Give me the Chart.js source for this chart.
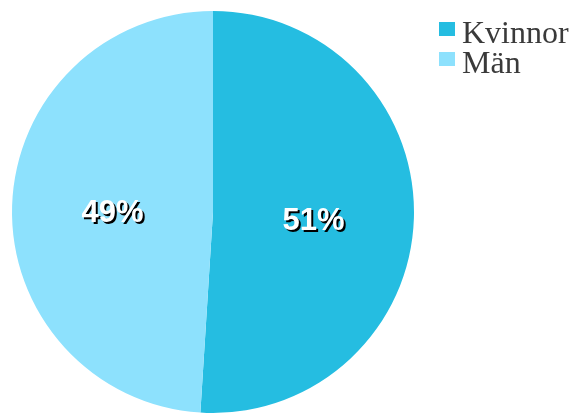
<!DOCTYPE html>
<html>
<head>
<meta charset="utf-8">
<script src="https://cdn.jsdelivr.net/npm/chart.js@4"></script>
<style>
  html, body { margin: 0; padding: 0; background: #fff; }
  #wrap { width: 571px; height: 414px; }
</style>
</head>
<body>
<div id="wrap"><canvas id="pie" width="571" height="414"></canvas></div>
<script>
const kategorier = ["Kvinnor", "Män"];
const andelar = [51, 49];
const farger = ["#25BDE1", "#8DE1FD"];

// procenttext mitt i varje tårtbit
const etiketter = {
    id: "etiketter",
    afterDatasetsDraw(chart) {
        const ctx = chart.ctx;
        const meta = chart.getDatasetMeta(0);
        ctx.save();
        ctx.font = "bold 31px 'Liberation Sans', Arial, sans-serif";
        ctx.textAlign = "center";
        ctx.textBaseline = "middle";
        meta.data.forEach((arc, i) => {
            const p = arc.tooltipPosition();
            const txt = andelar[i] + "%";
            const dy = i === 0 ? 6 : 5;
            ctx.fillStyle = "#000";
            ctx.fillText(txt, p.x + 2, p.y + dy + 2);
            ctx.fillStyle = "#fff";
            ctx.fillText(txt, p.x, p.y + dy);
        });
        ctx.restore();
    }
};

// egen förklaring uppe till höger
const forklaring = {
    id: "forklaring",
    afterDraw(chart) {
        const ctx = chart.ctx;
        ctx.save();
        ctx.font = "32px 'Liberation Serif', 'Times New Roman', serif";
        ctx.textBaseline = "alphabetic";
        ctx.textAlign = "left";
        kategorier.forEach((namn, i) => {
            const y = 22 + i * 30;
            ctx.fillStyle = farger[i];
            ctx.fillRect(439, y, 16, 14);
            ctx.fillStyle = "#3a3a3a";
            ctx.fillText(namn, 462, y + 21);
        });
        ctx.restore();
    }
};

window.onload = () => {
    const ctx = document.getElementById("pie").getContext("2d");
    new Chart(ctx, {
        type: "pie",
        data: {
            labels: kategorier,
            datasets: [{
                data: andelar,
                backgroundColor: farger,
                borderWidth: 0
            }]
        },
        options: {
            responsive: false,
            animation: false,
            layout: { padding: { left: 11, right: 156, top: 11, bottom: 1 } },
            plugins: {
                legend: { display: false },
                tooltip: { enabled: false }
            }
        },
        plugins: [etiketter, forklaring]
    });
};
</script>
</body>
</html>
